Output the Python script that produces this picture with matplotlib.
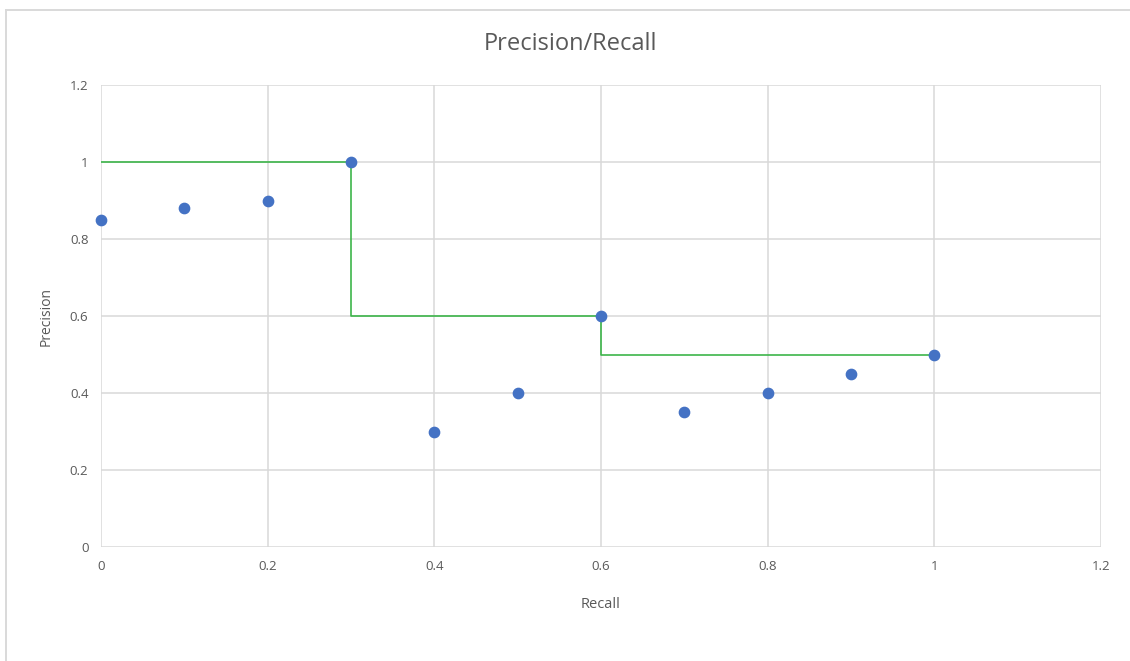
import matplotlib
matplotlib.use("Agg")
import matplotlib.pyplot as plt
from matplotlib.lines import Line2D

# recall / precision pairs
recall = [0.0, 0.1, 0.2, 0.3, 0.4, 0.5, 0.6, 0.7, 0.8, 0.9, 1.0]
precision = [0.85, 0.88, 0.9, 1.0, 0.3, 0.4, 0.6, 0.35, 0.4, 0.45, 0.5]

# interpolated precision envelope
step_x = [0.0, 0.3, 0.3, 0.6, 0.6, 1.0]
step_y = [1.0, 1.0, 0.6, 0.6, 0.5, 0.5]

ticks = [0, 0.2, 0.4, 0.6, 0.8, 1, 1.2]
tick_labels = ["0", "0.2", "0.4", "0.6", "0.8", "1", "1.2"]

plt.rcParams['font.family'] = ['Open Sans', 'DejaVu Sans']
text_color = "#595959"
grid_color = "#D9D9D9"

fig = plt.figure(figsize=(11.3, 6.61), dpi=100)

# chart frame: only the top and left edges show
x0, y0 = 5.5 / 1130, 1 - 9.5 / 661
fig.lines.append(Line2D([x0, x0], [0, y0], transform=fig.transFigure,
                        color=grid_color, linewidth=1.4))
fig.lines.append(Line2D([x0, 1], [y0, y0], transform=fig.transFigure,
                        color=grid_color, linewidth=1.4))

ax = fig.add_axes([101 / 1130, 114 / 661, 1000 / 1130, 462 / 661])
ax.set_xlim(0, 1.2)
ax.set_ylim(0, 1.2)
ax.set_xticks(ticks)
ax.set_xticklabels(tick_labels)
ax.set_yticks(ticks)
ax.set_yticklabels(tick_labels)
ax.grid(True, color=grid_color, linewidth=1.1)
ax.set_axisbelow(True)
for side in ["top", "right", "left", "bottom"]:
    ax.spines[side].set_visible(False)
ax.tick_params(length=0, colors=text_color, labelsize=9.5, pad=9)

ax.plot(step_x, step_y, color="#3DB54A", linewidth=1.2, zorder=2)
ax.scatter(recall, precision, s=55, color="#4472C4", zorder=3, clip_on=False)

ax.set_xlabel("Recall", color=text_color, fontsize=10.5, labelpad=18)
ax.set_ylabel("Precision", color=text_color, fontsize=10, labelpad=12)
fig.text(570 / 1130, 1 - 44 / 661, "Precision/Recall", ha="center", va="center",
         color=text_color, fontsize=17)

fig.savefig("out.png", dpi=100)
